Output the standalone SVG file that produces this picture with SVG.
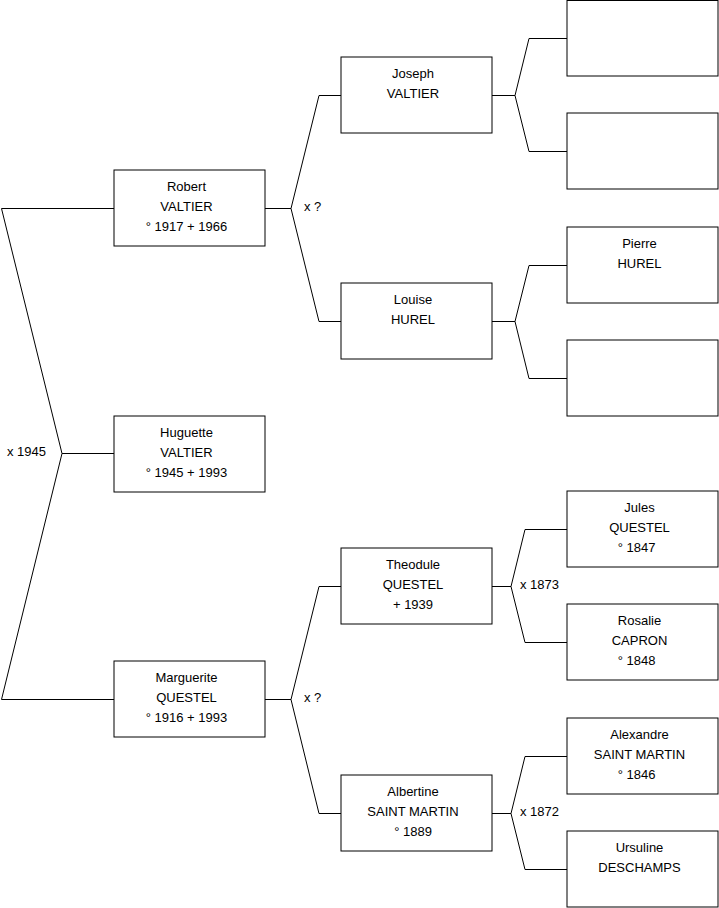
<svg xmlns="http://www.w3.org/2000/svg" width="719" height="908" viewBox="0 0 719 908">
<style>
.box{fill:#fff;stroke:#000;stroke-width:1}
.ln{fill:none;stroke:#000;stroke-width:1}
text{font-family:"Liberation Sans",Arial,sans-serif;font-size:13px;fill:#000}
.c{text-anchor:middle}
</style>
<rect x="0" y="0" width="719" height="908" fill="#fff"/>
<g id="connectors">
<path class="ln" d="M114,208.5 H1.5 L62,453.5 L1.5,699.5 H114 M62,453.5 H114"/>
<path class="ln" d="M265,208.5 H291 M341,95.5 H319 L291,208.5 L319,321.5 H341"/>
<path class="ln" d="M265,699.5 H291 M341,586.5 H319 L291,699.5 L319,813.5 H341"/>
<path class="ln" d="M492,95.5 H515 M567,38.5 H529 L515,95.5 L529,151.5 H567"/>
<path class="ln" d="M492,321.5 H515 M567,265.5 H529 L515,321.5 L529,378.5 H567"/>
<path class="ln" d="M492,586.5 H511 M567,529.5 H525 L511,586.5 L525,642.5 H567"/>
<path class="ln" d="M492,813.5 H511 M567,756.5 H525 L511,813.5 L525,869.5 H567"/>
<text x="7" y="456">x 1945</text>
<text x="304" y="211">x ?</text>
<text x="304" y="702">x ?</text>
<text x="520" y="589">x 1873</text>
<text x="520" y="816">x 1872</text>
</g>
<g id="robert"><rect class="box" x="114" y="170" width="151" height="76"/>
<text class="c" x="186.5" y="191">Robert</text><text class="c" x="186.5" y="211">VALTIER</text><text class="c" x="186.5" y="231">° 1917 + 1966</text></g>
<g id="huguette"><rect class="box" x="114" y="416" width="151" height="76"/>
<text class="c" x="186.5" y="437">Huguette</text><text class="c" x="186.5" y="457">VALTIER</text><text class="c" x="186.5" y="477">° 1945 + 1993</text></g>
<g id="marguerite"><rect class="box" x="114" y="661" width="151" height="76"/>
<text class="c" x="186.5" y="682">Marguerite</text><text class="c" x="186.5" y="702">QUESTEL</text><text class="c" x="186.5" y="722">° 1916 + 1993</text></g>
<g id="joseph"><rect class="box" x="341" y="57" width="151" height="76"/>
<text class="c" x="413" y="78">Joseph</text><text class="c" x="413" y="98">VALTIER</text></g>
<g id="louise"><rect class="box" x="341" y="283" width="151" height="76"/>
<text class="c" x="413" y="304">Louise</text><text class="c" x="413" y="324">HUREL</text></g>
<g id="theodule"><rect class="box" x="341" y="548" width="151" height="76"/>
<text class="c" x="413" y="569">Theodule</text><text class="c" x="413" y="589">QUESTEL</text><text class="c" x="413" y="609">+ 1939</text></g>
<g id="albertine"><rect class="box" x="341" y="775" width="151" height="76"/>
<text class="c" x="413" y="796">Albertine</text><text class="c" x="413" y="816">SAINT MARTIN</text><text class="c" x="413" y="836">° 1889</text></g>
<g id="p1"><rect class="box" x="567" y="0.5" width="151" height="75.5"/></g>
<g id="p2"><rect class="box" x="567" y="113" width="151" height="76"/></g>
<g id="pierre"><rect class="box" x="567" y="227" width="151" height="76"/>
<text class="c" x="639.5" y="248">Pierre</text><text class="c" x="639.5" y="268">HUREL</text></g>
<g id="p4"><rect class="box" x="567" y="340" width="151" height="76"/></g>
<g id="jules"><rect class="box" x="567" y="491" width="151" height="76"/>
<text class="c" x="639.5" y="512">Jules</text><text class="c" x="639.5" y="532">QUESTEL</text><text class="c" x="636.5" y="552">° 1847</text></g>
<g id="rosalie"><rect class="box" x="567" y="604" width="151" height="76"/>
<text class="c" x="639.5" y="625">Rosalie</text><text class="c" x="639.5" y="645">CAPRON</text><text class="c" x="636.5" y="665">° 1848</text></g>
<g id="alexandre"><rect class="box" x="567" y="718" width="151" height="76"/>
<text class="c" x="639.5" y="739">Alexandre</text><text class="c" x="639.5" y="759">SAINT MARTIN</text><text class="c" x="636.5" y="779">° 1846</text></g>
<g id="ursuline"><rect class="box" x="567" y="831" width="151" height="76"/>
<text class="c" x="639.5" y="852">Ursuline</text><text class="c" x="639.5" y="872">DESCHAMPS</text></g>
</svg>
